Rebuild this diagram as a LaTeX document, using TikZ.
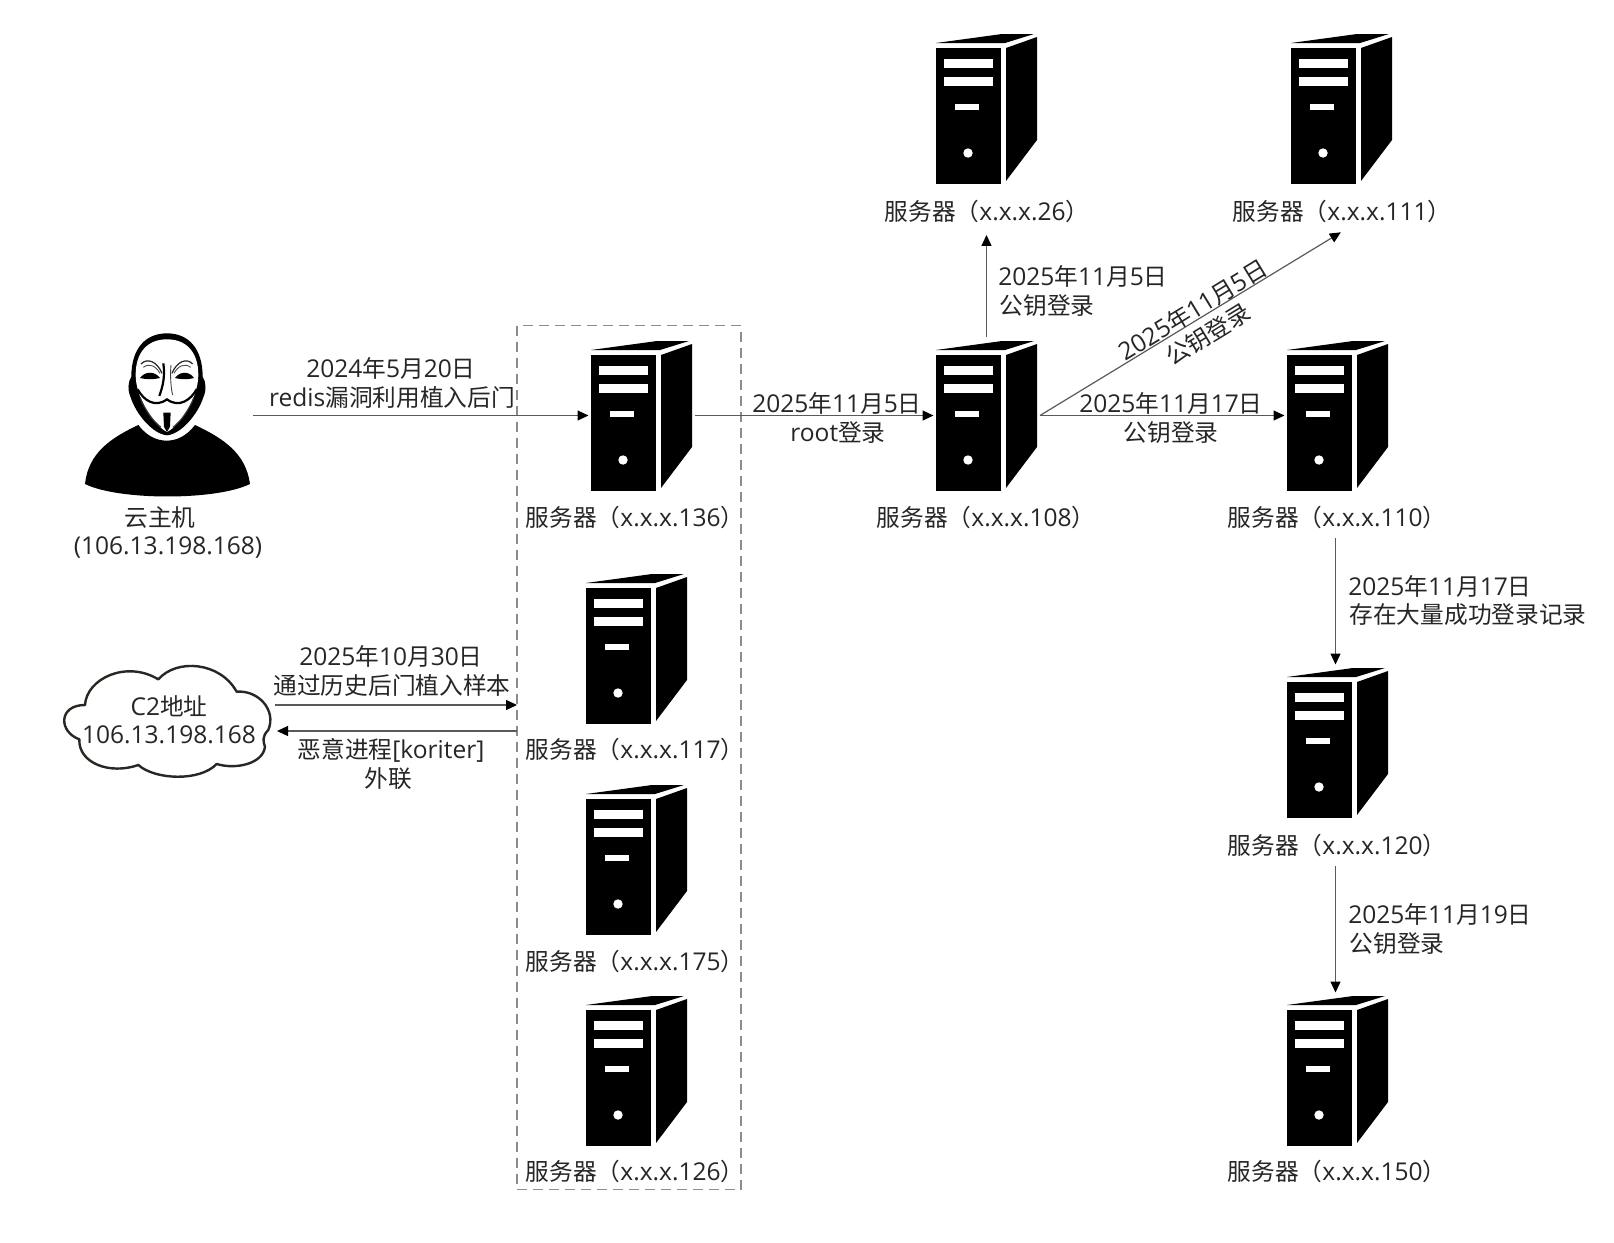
\documentclass[tikz,border=0pt]{standalone}
\usepackage{fontspec}
\setmainfont[Scale=1.035]{Open Sans}
\newfontfamily\cjkface{Noto Sans CJK SC}
\newcommand{\zh}[1]{{\cjkface #1}}
\usetikzlibrary{arrows.meta}
\definecolor{inktext}{HTML}{262626}
\definecolor{linkgray}{HTML}{5A5A5A}
\definecolor{dashgray}{HTML}{8C8C8C}
\definecolor{cloudink}{HTML}{2B2622}
\tikzset{
  txt/.style={inner sep=0pt,text=inktext,font=\fontsize{23.7}{26}\selectfont,anchor=center},
  link/.style={draw=linkgray,line width=1.2pt,-{Triangle[length=11pt,width=10pt,color=black]},shorten >=2.5pt},
  srvbox/.style={inner sep=0pt,outer sep=0pt,minimum width=101pt,minimum height=151pt},
  server/.pic={
    \fill[black] (0,-5) -- (66,-14) -- (98,-14) -- (69,-5) -- cycle;
    \fill[black] (0,0) rectangle (65,136);
    \fill[black] (70,0) -- (101,-11) -- (101,92) -- (70,133) -- cycle;
    \fill[white] (8,11) rectangle (57,20);
    \fill[white] (8,28.5) rectangle (57,37.5);
    \fill[white] (19,56) rectangle (43,62);
    \fill[white] (32,105) circle (4.7);
    \node[srvbox] (-box) at (50.5,60.5) {};
  }
}
\begin{document}
\begin{tikzpicture}[x=1pt,y=-1pt]
\useasboundingbox (0,0) rectangle (1614,1242);
\fill[white] (0,0) rectangle (1614,1242);

% dashed group around the four compromised hosts
\node[draw=dashgray,line width=1.8pt,dash pattern=on 10pt off 6pt,minimum width=224pt,minimum height=864pt,inner sep=0pt,outer sep=0pt] (grp) at (629,757.5) {};

% servers
\pic (s136) at (591,355) {server};
\pic (s117) at (586,588) {server};
\pic (s175) at (586,799) {server};
\pic (s126) at (586,1010) {server};
\pic (s108) at (936,355) {server};
\pic (s26) at (936,48) {server};
\pic (s111) at (1291,48) {server};
\pic (s110) at (1287,355) {server};
\pic (s120) at (1287,682) {server};
\pic (s150) at (1287,1010) {server};

% server captions
\node[txt] (l136) at (635,517) {\zh{服务器（}x.x.x.136\zh{）}};
\node[txt] (l117) at (635,749) {\zh{服务器（}x.x.x.117\zh{）}};
\node[txt] (l175) at (635,961) {\zh{服务器（}x.x.x.175\zh{）}};
\node[txt] (l126) at (635,1171) {\zh{服务器（}x.x.x.126\zh{）}};
\node[txt] (l108) at (986,517) {\zh{服务器（}x.x.x.108\zh{）}};
\node[txt] (l26) at (987,211) {\zh{服务器（}x.x.x.26\zh{）}};
\node[txt] (l111) at (1342,211) {\zh{服务器（}x.x.x.111\zh{）}};
\node[txt] (l110) at (1337,517) {\zh{服务器（}x.x.x.110\zh{）}};
\node[txt] (l120) at (1337,845) {\zh{服务器（}x.x.x.120\zh{）}};
\node[txt] (l150) at (1337,1171) {\zh{服务器（}x.x.x.150\zh{）}};

% masked attacker figure
\node[inner sep=0pt,outer sep=0pt,minimum width=171pt,minimum height=162pt] (hacker) at (167,414) {};
\begin{scope}[shift={(60,310)},x=0.3333pt,y=-0.3333pt]
  \fill[black] (75,522) .. controls (85,430) and (150,385) .. (235,345)
    .. controls (260,378) and (290,392) .. (320,392)
    .. controls (350,392) and (380,378) .. (405,345)
    .. controls (490,385) and (558,430) .. (570,522)
    .. controls (470,572) and (175,572) .. (75,522) -- cycle;
  % head and hair
  \fill[black] (321,70) .. controls (385,70) and (428,115) .. (428,200)
    .. controls (438,215) and (440,240) .. (430,262)
    .. controls (415,310) and (365,372) .. (321,376)
    .. controls (277,372) and (227,310) .. (212,262)
    .. controls (202,240) and (204,215) .. (214,200)
    .. controls (214,115) and (257,70) .. (321,70) -- cycle;
  % mask
  \fill[white] (321,88) .. controls (378,88) and (415,125) .. (415,195)
    .. controls (415,255) and (370,340) .. (321,366)
    .. controls (272,340) and (227,255) .. (227,195)
    .. controls (227,125) and (264,88) .. (321,88) -- cycle;
  % eyes
  \fill[black] (240,204) .. controls (255,183) and (285,183) .. (300,204) .. controls (280,209) and (260,209) .. (240,204) -- cycle;
  \fill[black] (345,204) .. controls (360,183) and (388,183) .. (402,204) .. controls (385,209) and (362,209) .. (345,204) -- cycle;
  % brows
  \draw[black!85,line width=1.2pt] (243,162) .. controls (262,142) and (292,155) .. (306,190);
  \draw[black!70,line width=0.9pt] (250,172) .. controls (268,158) and (288,168) .. (300,190);
  \draw[black!85,line width=1.2pt] (398,162) .. controls (380,142) and (350,155) .. (336,190);
  \draw[black!70,line width=0.9pt] (392,172) .. controls (374,158) and (354,168) .. (342,190);
  % nose
  \draw[black,line width=2.2pt] (310,160) .. controls (316,200) and (308,230) .. (298,258);
  \draw[black!75,line width=0.9pt] (333,165) .. controls (330,200) and (333,235) .. (338,255);
  % grin and moustache
  \draw[black,line width=2.2pt] (233,238) .. controls (250,270) and (285,295) .. (321,268)
     .. controls (357,295) and (392,270) .. (410,238);
  \draw[black!80,line width=1.2pt] (240,262) .. controls (255,300) and (280,335) .. (303,352);
  \draw[black!80,line width=1.2pt] (402,262) .. controls (387,300) and (362,335) .. (339,352);
  % goatee
  \fill[black] (310,308) -- (332,308) -- (330,350) -- (321,366) -- (312,350) -- cycle;
\end{scope}
\node[txt] (hname) at (160,518) {\zh{云主机}};
\node[txt] (hip) at (168,548) {(106.13.198.168)};

% C2 cloud
\node[inner sep=0pt,outer sep=0pt,minimum width=207pt,minimum height=113pt] (cloud) at (167,721) {};
\begin{scope}[shift={(50,640)},x=0.3333pt,y=-0.3333pt]
  \draw[cloudink,line width=2.4pt,fill=white,line join=round]
    (88,298) .. controls (25,275) and (25,195) .. (105,195)
    .. controls (110,115) and (230,60) .. (325,118)
    .. controls (380,55) and (510,65) .. (560,155)
    .. controls (625,150) and (680,210) .. (655,270)
    .. controls (635,290) and (640,305) .. (645,320)
    .. controls (640,370) and (560,390) .. (500,372)
    .. controls (450,425) and (315,420) .. (265,375)
    .. controls (180,405) and (85,370) .. (88,298) -- cycle;
\end{scope}
\node[txt] (c2a) at (169,706) {C2\zh{地址}};
\node[txt] (c2b) at (169,735) {106.13.198.168};

% free end of the diagonal connector
\coordinate (c111) at (1343,231);

% connectors
\draw[link] (hacker.east |- s136-box.west) -- (s136-box.west);
\draw[link] ([xshift=3pt]s136-box.east) -- (s108-box.west);
\draw[link] (s108-box.north) ++(0,-3) -- ([yshift=-10pt]s108-box.north |- l26.south);
\draw[link] ([xshift=3pt]s108-box.east) -- (c111);
\draw[link] ([xshift=3pt]s108-box.east) -- (s110-box.west);
\draw[link] ([xshift=-2pt]s110-box.south |- l110.south) ++(0,10) -- ([xshift=-2pt]s120-box.north);
\draw[link] ([xshift=-2pt]s120-box.south |- l120.south) ++(0,10) -- ([xshift=-2pt]s150-box.north);
\draw[link,shorten >=0pt] (cloud.east |- 0,705) ++(4,0) -- (grp.west |- 0,705);
\draw[link] (grp.west |- 0,731) -- ([xshift=4pt]cloud.east |- 0,731);

% connector captions
\node[txt] (e1a) at (391,368.5) {2024\zh{年}5\zh{月}20\zh{日}};
\node[txt] (e1b) at (392,397) {redis\zh{漏洞利用植入后门}};
\node[txt] (e2a) at (391,656) {2025\zh{年}10\zh{月}30\zh{日}};
\node[txt] (e2b) at (392,685.5) {\zh{通过历史后门植入样本}};
\node[txt] (e3a) at (391,750) {\zh{恶意进程}[koriter]};
\node[txt] (e3b) at (388,779) {\zh{外联}};
\node[txt] (e4a) at (837,403.5) {2025\zh{年}11\zh{月}5\zh{日}};
\node[txt] (e4b) at (838,433) {root\zh{登录}};
\node[txt] (e5a) at (1083,276) {2025\zh{年}11\zh{月}5\zh{日}};
\node[txt] (e5b) at (1047,306) {\zh{公钥登录}};
\node[txt,rotate=31.4] (e6a) at (1193,310) {2025\zh{年}11\zh{月}5\zh{日}};
\node[txt,rotate=31.4] (e6b) at (1208,334.5) {\zh{公钥登录}};
\node[txt] (e7a) at (1171,403.5) {2025\zh{年}11\zh{月}17\zh{日}};
\node[txt] (e7b) at (1171,433) {\zh{公钥登录}};
\node[txt] (e8a) at (1440,586) {2025\zh{年}11\zh{月}17\zh{日}};
\node[txt] (e8b) at (1468,614.5) {\zh{存在大量成功登录记录}};
\node[txt] (e9a) at (1440,914) {2025\zh{年}11\zh{月}19\zh{日}};
\node[txt] (e9b) at (1397,944) {\zh{公钥登录}};
\end{tikzpicture}
\end{document}
